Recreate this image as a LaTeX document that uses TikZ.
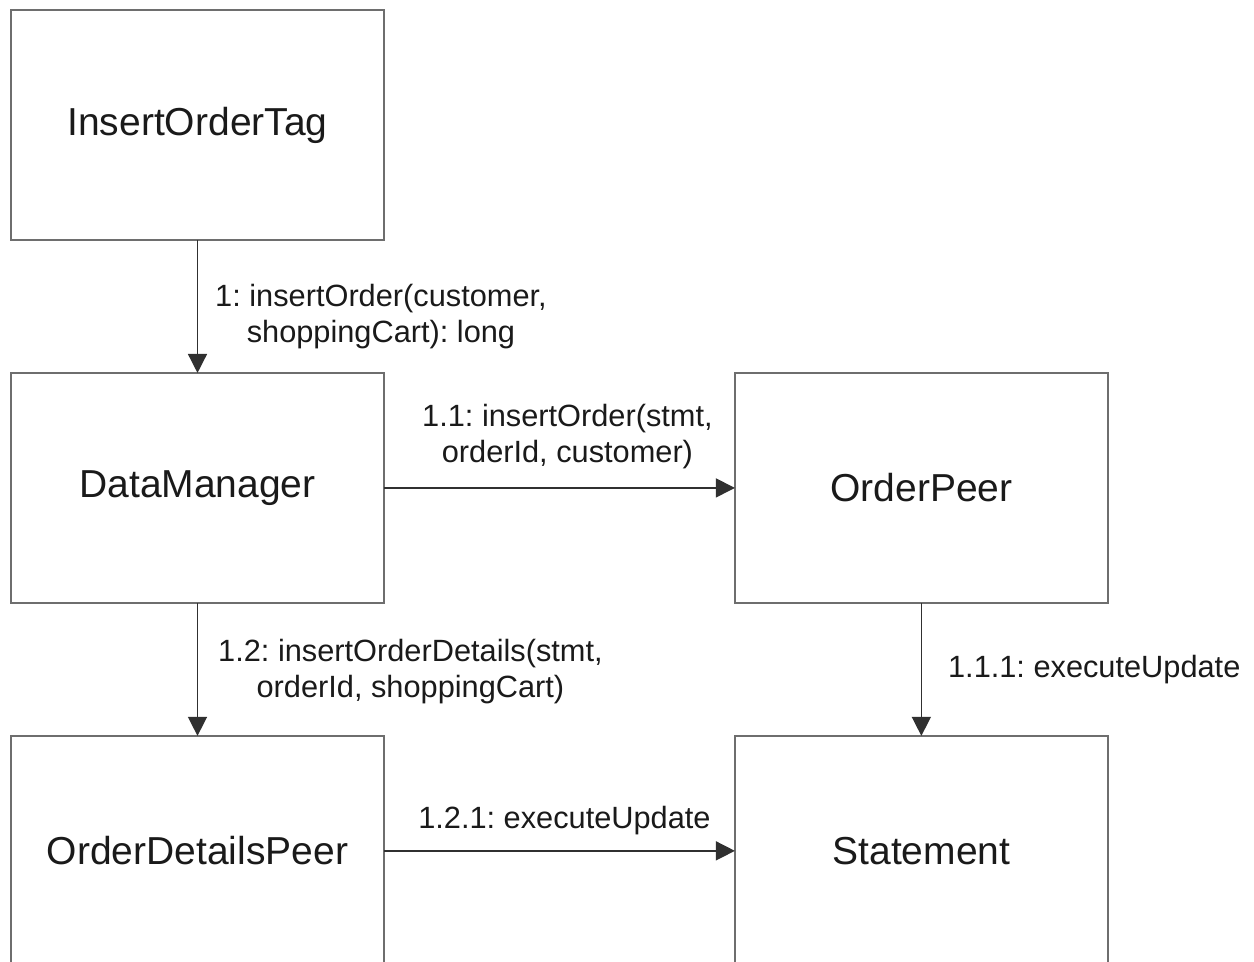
\documentclass[tikz,border=0pt]{standalone}
\usepackage{fontspec}
\setmainfont{Liberation Sans}
\usetikzlibrary{positioning,arrows.meta}
\frenchspacing

\definecolor{boxgray}{HTML}{6E6E6E}
\definecolor{arrowgray}{HTML}{303030}
\definecolor{textgray}{HTML}{1A1A1A}

\begin{document}
\begin{tikzpicture}[
  x = 0.02cm, y = -0.02cm,
  class/.style = {draw = boxgray, line width = 0.04cm, shape = rectangle, outer sep = 0pt, inner sep = 0pt, minimum width = 7.46cm, minimum height = 4.6cm, text = textgray, font = \fontsize{22.2}{26}\selectfont},
  msg/.style = {draw = arrowgray, line width = 0.03cm, -{Triangle[length = 0.38cm, width = 0.38cm]}},
  lbl/.style = {inner sep = 0pt, align = center, text = textgray, font = \fontsize{17.5}{20.8}\selectfont}
]
\useasboundingbox (0,0) rectangle (1254,962);
\clip (0,0) rectangle (1254,962);

\node[class] (tag) at (197.5,125) {InsertOrderTag};
\node[class, below = 2.66cm of tag] (dm) {DataManager};
\node[class, right = 7.02cm of dm] (op) {OrderPeer};
\node[class, below = 2.66cm of dm] (odp) {OrderDetailsPeer};
\node[class, below = 2.66cm of op] (st) {Statement};

\draw[msg] (tag) -- (dm) node[lbl, midway, right = 0.34cm, yshift = -0.2cm] {1: insertOrder(customer,\\shoppingCart): long};
\draw[msg] (dm) -- (op) node[lbl, midway, above = 0.36cm, xshift = 0.16cm] {1.1: insertOrder(stmt,\\orderId, customer)};
\draw[msg] (dm) -- (odp) node[lbl, midway, right = 0.4cm, yshift = -0.04cm] {1.2: insertOrderDetails(stmt,\\orderId, shoppingCart)};
\draw[msg] (op) -- (st) node[lbl, midway, right = 0.52cm] {1.1.1: executeUpdate};
\draw[msg] (odp) -- (st) node[lbl, midway, above = 0.3cm, xshift = 0.1cm] {1.2.1: executeUpdate};
\end{tikzpicture}
\end{document}
